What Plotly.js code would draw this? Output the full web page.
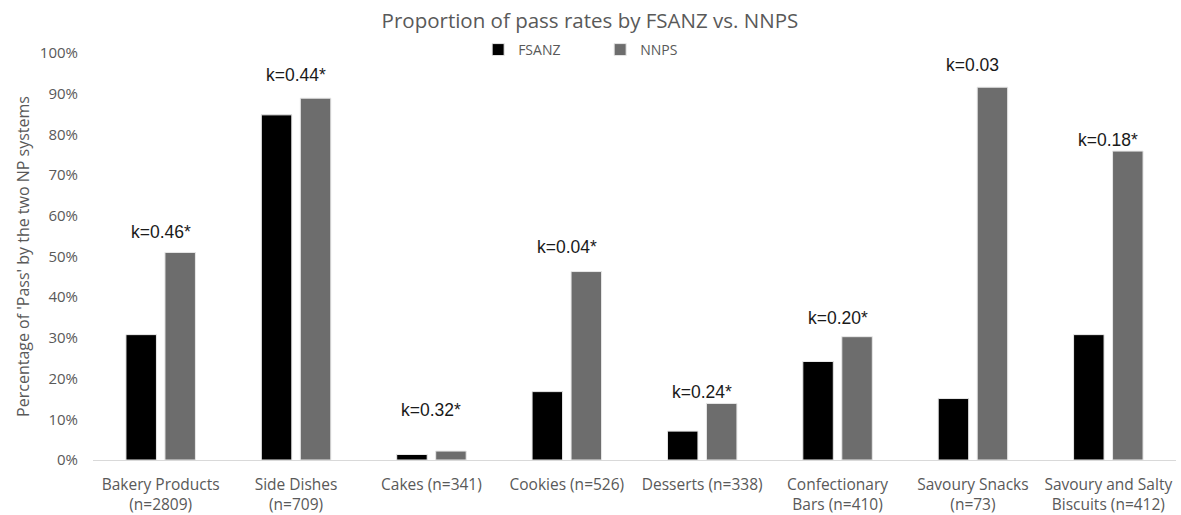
<!DOCTYPE html>
<html>
<head>
<meta charset="utf-8">
<script src="https://cdn.plot.ly/plotly-3.0.1.min.js"></script>
<style>html,body{margin:0;padding:0;background:#fff;}#chart{width:1181px;height:515px;}</style>
</head>
<body>
<div id="chart"></div>
<script>
const categories = ["Bakery Products<br>(n=2809)", "Side Dishes<br>(n=709)", "Cakes (n=341)", "Cookies (n=526)", "Desserts (n=338)", "Confectionary<br>Bars (n=410)", "Savoury Snacks<br>(n=73)", "Savoury and Salty<br>Biscuits (n=412)"];
const fsanz = [0.308, 0.848, 0.0135, 0.168, 0.071, 0.242, 0.151, 0.308];
const nnps = [0.51, 0.889, 0.022, 0.463, 0.139, 0.303, 0.916, 0.759];
const kLabels = ["k=0.46*", "k=0.44*", "k=0.32*", "k=0.04*", "k=0.24*", "k=0.20*", "k=0.03", "k=0.18*"];
// heights (in axis units) at which the kappa labels are centred
const kLabelHeights = [0.561, 0.946, 0.124, 0.524, 0.166, 0.35, 0.971, 0.787];
const yTicks = [0, 0.1, 0.2, 0.3, 0.4, 0.5, 0.6, 0.7, 0.8, 0.9, 1.0];
const yTickText = ["0%", "10%", "20%", "30%", "40%", "50%", "60%", "70%", "80%", "90%", "100%"];

const grey = "#595959";
const traces = [
  {type: "bar", name: "FSANZ", x: categories, y: fsanz, marker: {color: "#000000", line: {color: "#e8e8e8", width: 1}}, hoverinfo: "none"},
  {type: "bar", name: "NNPS", x: categories, y: nnps, marker: {color: "#6d6d6d", line: {color: "#e8e8e8", width: 1}}, hoverinfo: "none"}
];

const annotations = categories.map((c, i) => ({
  x: c, y: kLabelHeights[i], xref: "x", yref: "y",
  text: kLabels[i], showarrow: false, yanchor: "middle", xanchor: "center",
  font: {family: "Liberation Sans, Arial, sans-serif", size: 17.5, color: "#1a1a1a"}
}));

const layout = {
  width: 1181, height: 515,
  margin: {l: 92.5, r: 4.5, t: 53, b: 54.5},
  paper_bgcolor: "#fff", plot_bgcolor: "#fff",
  font: {family: "Open Sans, sans-serif", size: 14, color: grey},
  title: {text: "Proportion of pass rates by FSANZ vs. NNPS", x: 0.4995, xanchor: "center", y: 1 - 21/515, yanchor: "middle",
          font: {family: "Open Sans, sans-serif", size: 20.5, color: grey}},
  bargap: 0.424, bargroupgap: 0.218, barmode: "group",
  showlegend: true,
  legend: {orientation: "h", x: (478 - 92.5) / 1084, xanchor: "left", y: 1.0074, yanchor: "middle",
           font: {family: "Open Sans, sans-serif", size: 14, color: grey}, itemwidth: 30, entrywidth: 77, bgcolor: "rgba(0,0,0,0)"},
  xaxis: {type: "category", showline: true, linecolor: "#d9d9d9", linewidth: 1, ticks: "", showgrid: false, zeroline: false,
          tickfont: {family: "Open Sans, sans-serif", size: 15.5, color: grey}, ticklabelstandoff: 10, fixedrange: true},
  yaxis: {range: [0, 1], tickvals: yTicks, ticktext: yTickText, showgrid: false, zeroline: false, showline: false,
          ticks: "", ticklen: 0, tickfont: {family: "Open Sans, sans-serif", size: 15, color: grey}, ticklabelstandoff: 14,
          title: {text: "Percentage of 'Pass' by the two NP systems", font: {family: "Open Sans, sans-serif", size: 16, color: grey}, standoff: 6}},
  annotations: annotations
};

Plotly.newPlot("chart", traces, layout, {displayModeBar: false, staticPlot: true});
</script>
</body>
</html>
